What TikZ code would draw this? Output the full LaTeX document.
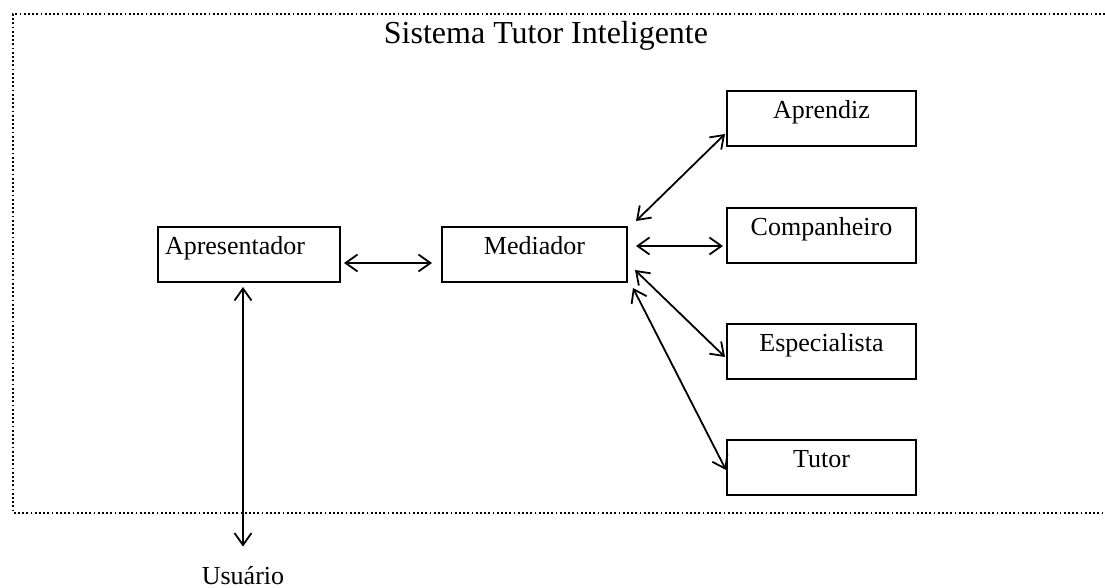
\documentclass[tikz,border=0pt]{standalone}
\usepackage{fontspec}
\setmainfont{Liberation Serif}
\usetikzlibrary{arrows.meta}

\tikzset{
  stibox/.style={draw, line width=1pt, inner xsep=0pt, inner ysep=0pt, outer sep=0pt,
    text height=14pt, text depth=13.5pt, anchor=north west,
    font=\fontsize{13}{15}\selectfont},
  stiline/.style={line width=0.9pt},
  stiframe/.style={line width=0.9pt, dash pattern=on 0.9pt off 1.2pt}
}

\begin{document}
\begin{tikzpicture}[x=0.5pt,y=-0.5pt,>={Straight Barb[length=6pt,width=8.5pt]}]
\useasboundingbox (0,0) rectangle (1105,588);
% dotted frame, right side runs off the page
\draw[stiframe] (1105,14) -- (13,14) -- (13,513) -- (1105,513);
\node[font=\fontsize{16}{19}\selectfont, anchor=base] (titulo) at (546,44) {Sistema Tutor Inteligente};

% the modules
\node[stibox, text width=84pt, align=left, inner xsep=3.5pt] (apres) at (158,227) {Apresentador};
\node[stibox, minimum width=92.5pt] (med) at (442,227) {Mediador};
\foreach \nome/\texto/\topo in {apr/Aprendiz/91, comp/Companheiro/208, esp/Especialista/324, tut/Tutor/440}
\node[stibox, minimum width=94.5pt] (\nome) at (727,\topo) {\texto};
\node[font=\fontsize{13}{15}\selectfont, anchor=base, inner sep=0pt, text height=19pt] (usr) at (243,585) {Usuário};

% connectors
\draw[<->, stiline] ([shift={(4,8.5)}]apres.east) -- ([shift={(-10,8.5)}]med.west);
\draw[<->, stiline] ([shift={(-6,5)}]apres.south) -- (usr.north);
\draw[<->, stiline] ([shift={(9,-6)}]med.north east) -- ([shift={(-2,15.5)}]apr.west);
\draw[<->, stiline] ([shift={(9,-8.5)}]med.east) -- ([shift={(-4,10.5)}]comp.west);
\draw[<->, stiline] ([shift={(8,15.5)}]med.east) -- ([shift={(-2,5.5)}]esp.west);
\draw[<->, stiline] ([shift={(6,6)}]med.south east) -- ([shift={(-1,2.5)}]tut.west);
\end{tikzpicture}
\end{document}
